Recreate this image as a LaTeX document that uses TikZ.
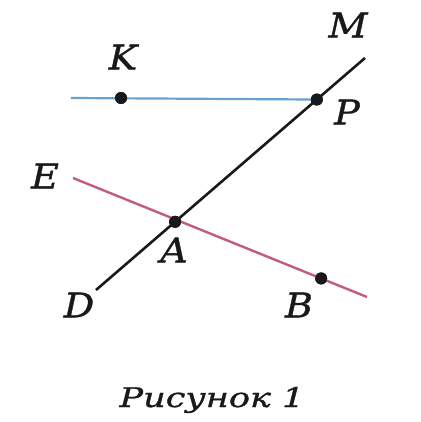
\documentclass[tikz,border=0pt]{standalone}
\usepackage{fontspec}
\setmainfont{DejaVu Serif}
\newfontfamily\lblfont[FakeBold=1.0,FakeStretch=1.12]{DejaVu Serif}
\newfontfamily\capfont[FakeBold=1.0,FakeStretch=1.3]{DejaVu Serif}
\usetikzlibrary{calc}
\definecolor{lineblue}{RGB}{105,160,205}
\definecolor{linered}{RGB}{195,90,130}
\definecolor{ink}{RGB}{25,25,25}
\begin{document}
\begin{tikzpicture}[x=1pt,y=-1pt,
  pt/.style={circle,fill=ink,inner sep=0pt,minimum size=12pt},
  lbl/.style={inner sep=0pt,text=ink,font=\lblfont\fontsize{34}{34}\selectfont\itshape},
  captiontext/.style={inner sep=0pt,text=ink,font=\capfont\fontsize{27}{27}\selectfont\itshape},
  blueline/.style={draw=lineblue,line width=2.2pt},
  redline/.style={draw=linered,line width=2.4pt},
  blackline/.style={draw=ink,line width=2.6pt}]
\useasboundingbox (0,0) rectangle (420,422);
\fill[white] (0,0) rectangle (420,422);
% line ends
\coordinate (bl) at (71,98);
\coordinate (dend) at (96,290);
\coordinate (mend) at (365,58);
\coordinate (eend) at (73,178);
\coordinate (rend) at (367,297);
% points
\node[pt] (K) at (121,98) {};
\node[pt] (P) at ($(dend)!0.821!(mend)$) {};
\node[pt] (A) at ($(dend)!0.294!(mend)$) {};
\node[pt] (B) at ($(eend)!0.844!(rend)$) {};
% lines
\draw[blueline] (bl) -- (P.center);
\draw[redline] (eend) -- (rend);
\draw[blackline] (dend) -- (mend);
% redraw points on top
\node[pt] at (K) {};
\node[pt] at (P) {};
\node[pt] at (A) {};
\node[pt] at (B) {};
% labels
\node[lbl] (lK) at (123,57) {K};
\node[lbl] (lM) at (348,25) {M};
\node[lbl] (lP) at (347,112) {P};
\node[lbl] (lE) at (45,176) {E};
\node[lbl] (lA) at (174,250) {A};
\node[lbl] (lD) at (79,305) {D};
\node[lbl] (lB) at (299,305) {B};
\node[captiontext,anchor=base] (caption) at (212,407) {Рисунок 1};
\end{tikzpicture}
\end{document}
